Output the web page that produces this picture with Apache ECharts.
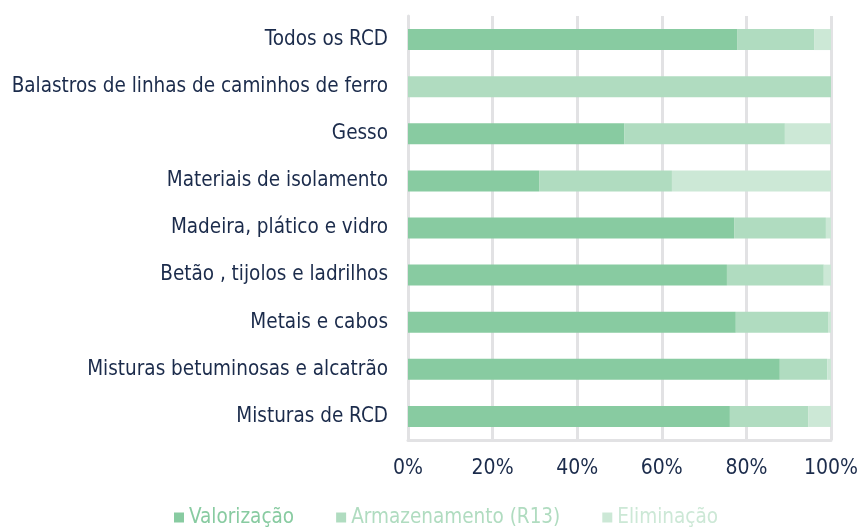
<!DOCTYPE html>
<html lang="pt">
<head>
<meta charset="UTF-8">
<title>RCD</title>
<script src="https://cdn.jsdelivr.net/npm/echarts@6/dist/echarts.min.js"></script>
<style>
  html, body { margin: 0; padding: 0; background: #fff; }
  #chart { width: 861px; height: 527px; }
</style>
</head>
<body>
<div id="chart"></div>
<script>
// categorias (de baixo para cima, como no eixo)
const categorias = [
  'Misturas de RCD',
  'Misturas betuminosas e alcatrão',
  'Metais e cabos',
  'Betão , tijolos e ladrilhos',
  'Madeira, plático e vidro',
  'Materiais de isolamento',
  'Gesso',
  'Balastros de linhas de caminhos de ferro',
  'Todos os RCD'
];
// percentagens
const valorizacao   = [76.1, 87.9, 77.5, 75.4, 77.1, 31.0, 51.1, 0, 77.8];
const armazenamento = [18.5, 11.2, 21.8, 22.9, 21.7, 31.4, 38.0, 100, 18.2];
const eliminacao    = [5.4, 0.9, 0.7, 1.7, 1.2, 37.6, 10.9, 0, 4.0];
const nomesSeries = ['Valorização', 'Armazenamento (R13)', 'Eliminação'];
const cores = ['#88cba1', '#b0dcc0', '#cce8d6'];

const fonte = '"DejaVu Sans Condensed", "Liberation Sans Narrow", Roboto, sans-serif';
const corTexto = '#1b2b4b';

const chart = echarts.init(document.getElementById('chart'));

const dados = [valorizacao, armazenamento, eliminacao];
const series = dados.map((d, i) => ({
  name: nomesSeries[i],
  type: 'bar',
  stack: 'total',
  barWidth: 21,
  itemStyle: { color: cores[i] },
  data: d
}));

chart.setOption({
  animation: false,
  grid: { left: 408, right: 28, top: 16, bottom: 87, containLabel: false },
  legend: {
    data: nomesSeries.map((n, i) => ({ name: n, textStyle: { color: cores[i] } })),
    left: 169,
    top: 502,
    itemWidth: 10,
    itemHeight: 10,
    itemGap: 42,
    icon: 'rect',
    textStyle: { fontFamily: fonte, fontSize: 20.5 }
  },
  xAxis: {
    type: 'value',
    min: 0,
    max: 100,
    interval: 20,
    axisLabel: {
      formatter: '{value}%',
      fontFamily: fonte,
      fontSize: 21,
      color: corTexto,
      margin: 18
    },
    axisLine: { show: true, lineStyle: { color: '#e2e2e4', width: 3 } },
    axisTick: { show: false },
    splitLine: { show: true, lineStyle: { color: '#e2e2e4', width: 3 } }
  },
  yAxis: {
    type: 'category',
    data: categorias,
    axisLabel: {
      fontFamily: fonte,
      fontSize: 20.5,
      color: corTexto,
      margin: 20
    },
    axisLine: { show: true, lineStyle: { color: '#e2e2e4', width: 3 } },
    axisTick: { show: false }
  },
  series: series
});
</script>
</body>
</html>
